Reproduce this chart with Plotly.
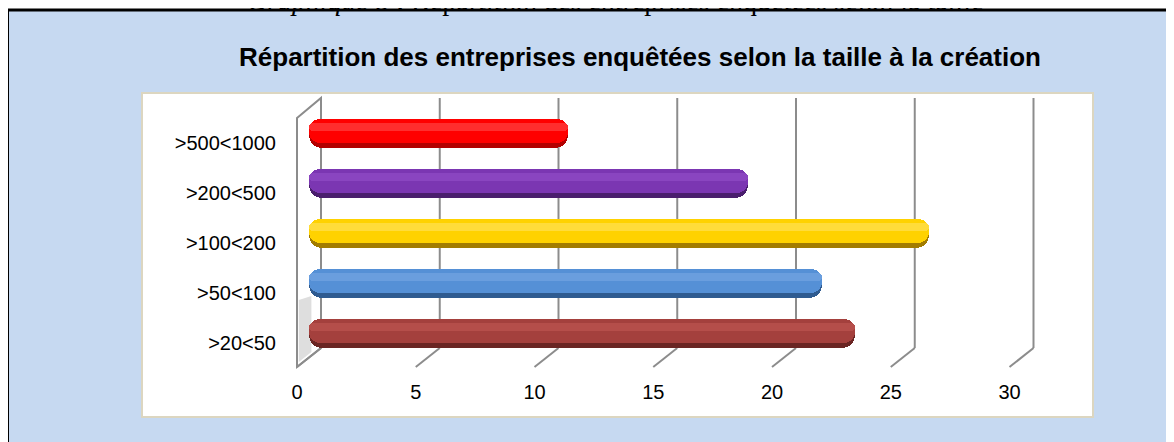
import plotly.graph_objects as go

# ---------------- data ----------------
categories = [">20<50", ">50<100", ">100<200", ">200<500", ">500<1000"]
values = [23.0, 21.6, 26.1, 18.5, 10.9]
main_colors = ["#A4403D", "#5590D6", "#FFD200", "#7B36B2", "#FF0000"]
dark_colors = ["#6A2523", "#2F5B90", "#A27C00", "#4A1E6D", "#B30000"]
light_colors = ["#B54E4A", "#6A9EDE", "#FFDC3A", "#8A45C0", "#FF2E2E"]
x_ticks = [0, 5, 10, 15, 20, 25, 30]
chart_title = "Répartition des entreprises enquêtées selon la taille à la création"
caption_italic = "Graphique 8"
caption_rest = " : Répartition des entreprises enquêtées selon la taille"

# ---------------- geometry (screen pixels -> figure pixels) ----------------
OFF = 8  # default page margin of the html body
W, H = 1174 - OFF, 442 - OFF
L = 286 - OFF
T = 95 - OFF
R = W - (1060 - OFF)
B = H - (372 - OFF)
PW, PH = W - L - R, H - T - B
PX_PER_UNIT = 23.75
ZERO_PX = 309 - OFF
CAT_PX = 50
CAT0_PX = 333 - OFF
x_range = [(L - ZERO_PX) / PX_PER_UNIT, (W - R - ZERO_PX) / PX_PER_UNIT]
y_range = [(CAT0_PX - (H - B)) / CAT_PX, (CAT0_PX - T) / CAT_PX]


def px_to_paper(sx, sy):
    px, py = sx - OFF, sy - OFF
    return (px - L) / PW, 1 - (py - T) / PH


def ydata(sy):
    return (CAT0_PX - (sy - OFF)) / CAT_PX


depth = 12 / PX_PER_UNIT  # half 3-D depth in data units

ypos = list(range(len(categories)))
zeros = [0 for _ in values]

fig = go.Figure()

# bar layers: (width, centre shift, colours, corner radius)
layers = [
    (0.58, 0.0, dark_colors, 13),
    (0.48, 0.05, main_colors, 11),
    (0.16, 0.13, light_colors, 6),
]
for width, shift, cols, rad in layers:
    fig.add_trace(go.Bar(
        y=ypos, x=values, base=zeros, orientation="h",
        width=width, offset=-width / 2 + shift,
        marker=dict(color=cols, cornerradius=rad, line=dict(width=0)),
        showlegend=False, hoverinfo="skip",
    ))

shapes = []
# outer blue box
x0, y0 = px_to_paper(7.5, 10)
x1, y1 = px_to_paper(1250, 470)
shapes.append(dict(type="rect", xref="paper", yref="paper", x0=x0, y0=y0, x1=x1, y1=y1,
                   fillcolor="#C6D9F1", line=dict(color="black", width=3), layer="below"))
# inner white panel
x0, y0 = px_to_paper(142, 93)
x1, y1 = px_to_paper(1093, 417)
shapes.append(dict(type="rect", xref="paper", yref="paper", x0=x0, y0=y0, x1=x1, y1=y1,
                   fillcolor="white", line=dict(color="#DCD6C0", width=2), layer="below"))

y_top = ydata(98)
y_back_bottom = ydata(348)
y_front_bottom = ydata(367)
y_wall_front_top = ydata(118)
# left wall
shapes.append(dict(
    type="path", xref="x", yref="y", layer="below",
    path=f"M {-depth},{y_wall_front_top} L {depth},{y_top} L {depth},{y_back_bottom} "
         f"L {-depth},{y_front_bottom} Z",
    fillcolor="white", line=dict(color="#8C8C8C", width=2)))
# shadow at bottom of wall
shapes.append(dict(
    type="path", xref="x", yref="y", layer="below",
    path=f"M {-depth*0.85},{ydata(300)} L {depth*0.2},{ydata(296)} L {depth*0.2},{ydata(352)} "
         f"L {-depth*0.85},{ydata(362)} Z",
    fillcolor="#C8C8C8", opacity=0.6, line=dict(width=0)))
# grid lines (back wall + floor)
for t in x_ticks[1:]:
    shapes.append(dict(type="line", xref="x", yref="y", layer="below",
                       x0=t + depth, y0=y_top, x1=t + depth, y1=y_back_bottom,
                       line=dict(color="#8C8C8C", width=2)))
for t in x_ticks:
    shapes.append(dict(type="line", xref="x", yref="y", layer="below",
                       x0=t + depth, y0=y_back_bottom, x1=t - depth, y1=y_front_bottom,
                       line=dict(color="#8C8C8C", width=2)))

label_font = "Liberation Sans, Arial, sans-serif"
fig.update_layout(
    width=W, height=H,
    margin=dict(l=L, r=R, t=T, b=B, pad=0),
    paper_bgcolor="white", plot_bgcolor="rgba(0,0,0,0)",
    barmode="overlay", bargap=0,
    shapes=shapes,
    font=dict(family="Liberation Sans, Arial, sans-serif", color="black"),
    title=dict(text=f"<b>{chart_title}</b>", x=(640 - OFF) / W, xanchor="center",
               y=1 - (57 - OFF) / H, yanchor="middle", yref="container",
               font=dict(size=26, family="Liberation Sans, Arial, sans-serif", color="black")),
    xaxis=dict(range=x_range, tickvals=x_ticks, ticktext=[str(t) for t in x_ticks],
               showgrid=False, zeroline=False, showline=False, ticks="",
               ticklabelshift=-12, ticklabelstandoff=6,
               tickfont=dict(size=20, family=label_font), fixedrange=True),
    yaxis=dict(range=y_range, tickvals=ypos, ticktext=categories,
               showgrid=False, zeroline=False, showline=False, ticks="",
               ticklabelshift=10, ticklabelstandoff=9,
               tickfont=dict(size=20, family=label_font), fixedrange=True),
    annotations=[dict(
        text=f"<i>{caption_italic}</i>{caption_rest}",
        xref="paper", yref="paper",
        x=px_to_paper(615, 0)[0], y=px_to_paper(0, 18)[1],
        xanchor="center", yanchor="bottom", showarrow=False,
        font=dict(family="Liberation Serif, Times New Roman, serif", size=28, color="black"),
    )],
)

fig.write_html("out.html")
